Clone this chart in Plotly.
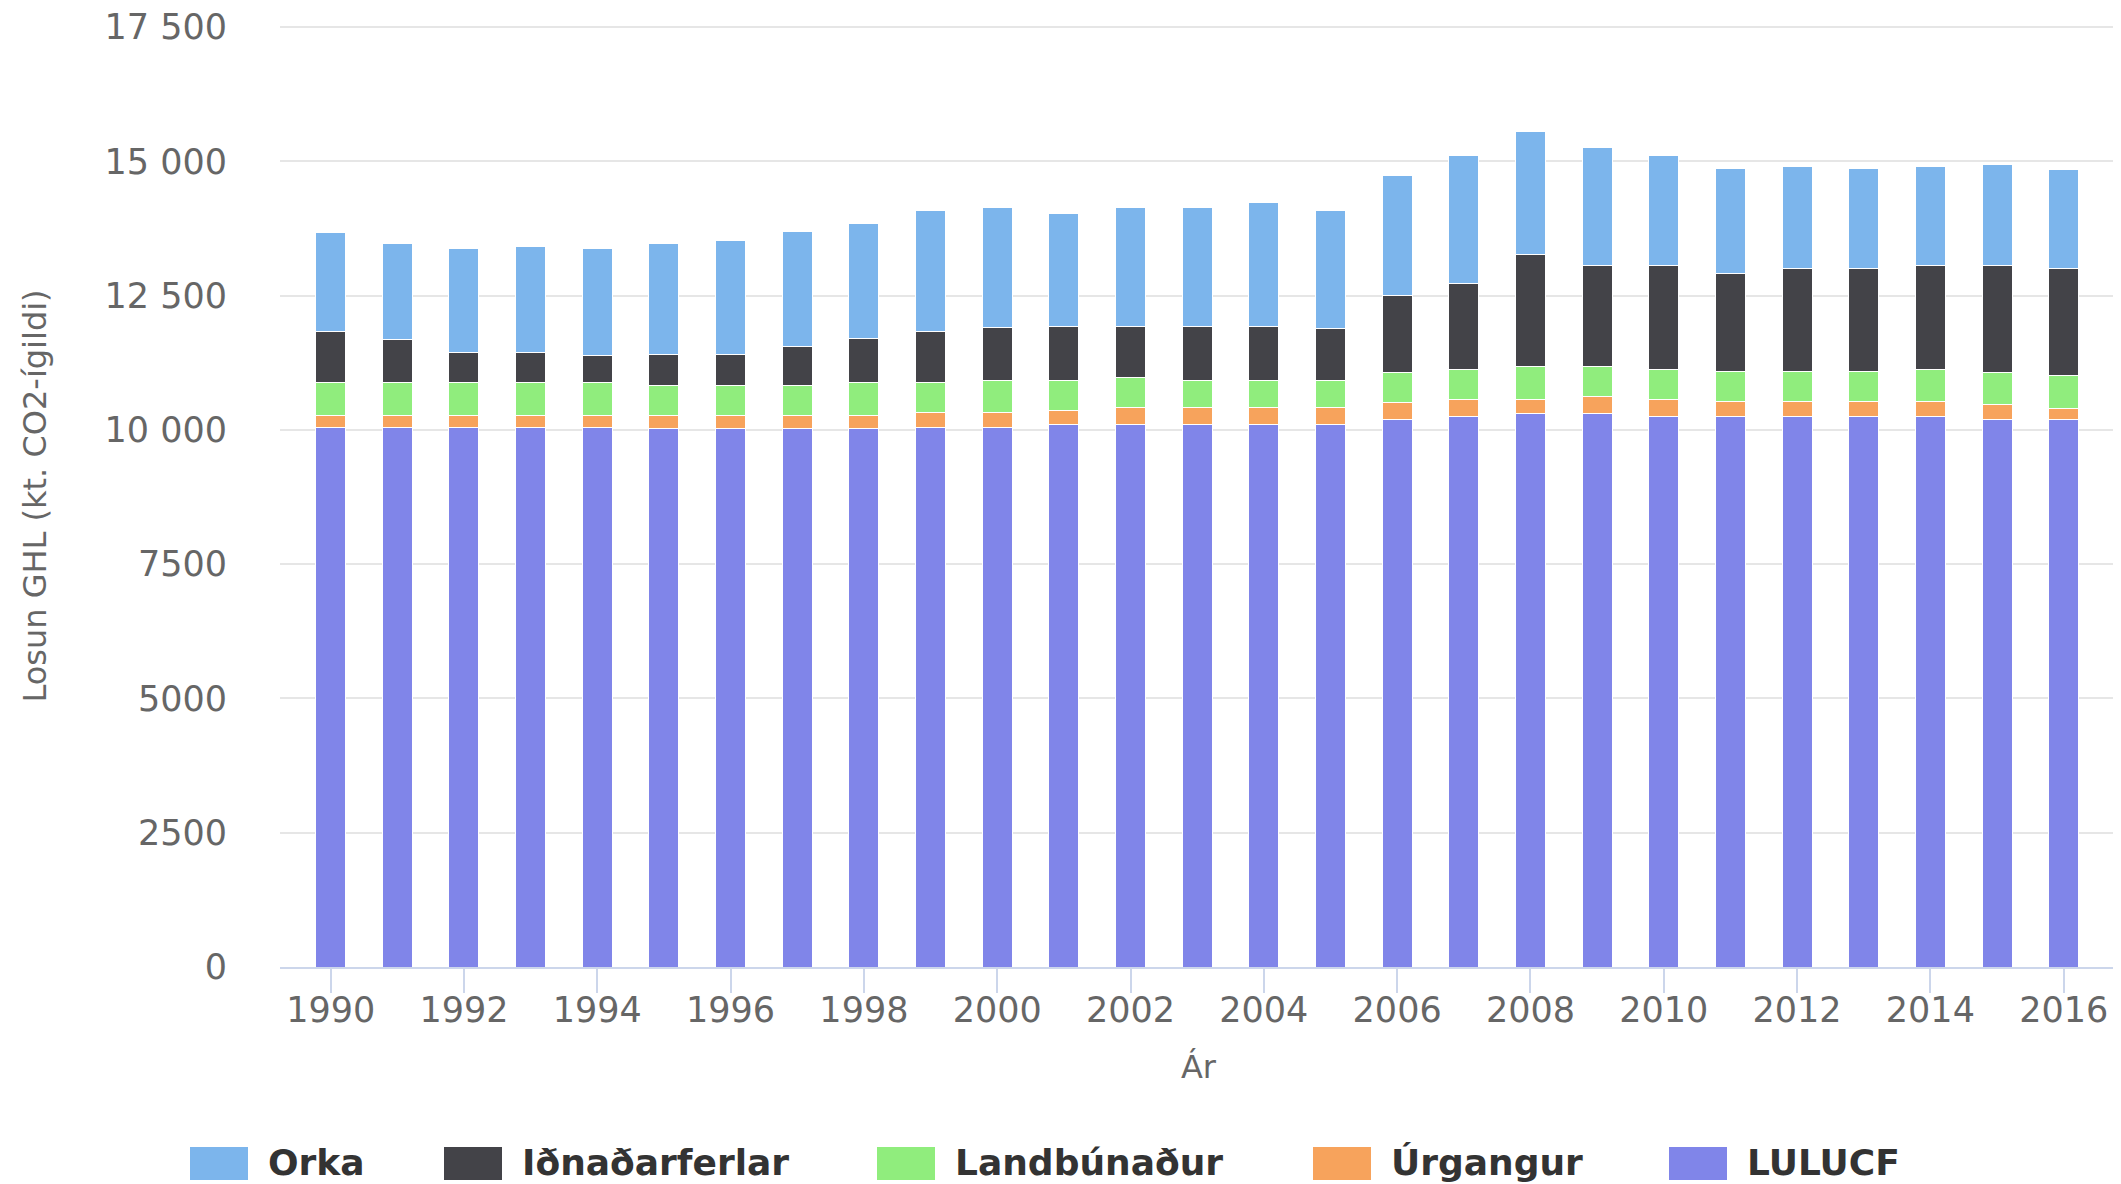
import plotly.graph_objects as go

years = list(range(1990, 2017))
series_names = ["LULUCF", "Úrgangur", "Landbúnaður", "Iðnaðarferlar", "Orka"]
lulucf = [10050, 10050, 10050, 10050, 10050, 10020, 10020, 10020, 10020, 10050,
          10050, 10100, 10100, 10100, 10100, 10100, 10200, 10250, 10300, 10300,
          10250, 10250, 10250, 10250, 10250, 10200, 10200]
urgangur = [210, 210, 210, 210, 210, 250, 250, 250, 250, 270,
            280, 270, 310, 310, 310, 310, 320, 320, 260, 320,
            320, 280, 280, 280, 280, 270, 200]
landbunadur = [620, 620, 620, 620, 620, 560, 560, 560, 620, 560,
               600, 550, 560, 510, 510, 510, 550, 560, 620, 560,
               560, 550, 550, 550, 600, 600, 620]
idnadarferlar = [960, 810, 560, 560, 510, 570, 570, 730, 810, 960,
                 970, 1010, 960, 1010, 1010, 970, 1430, 1590, 2080, 1880,
                 1940, 1830, 1930, 1930, 1940, 1990, 1980]
orka = [1830, 1790, 1930, 1980, 1980, 2080, 2130, 2130, 2150, 2240,
        2250, 2100, 2210, 2210, 2300, 2190, 2240, 2390, 2300, 2200,
        2040, 1950, 1890, 1850, 1840, 1880, 1850]
y_ticks = [0, 2500, 5000, 7500, 10000, 12500, 15000, 17500]
y_tick_labels = ["0", "2500", "5000", "7500", "10 000", "12 500", "15 000", "17 500"]
x_ticks = list(range(1990, 2017, 2))

values = [lulucf, urgangur, landbunadur, idnadarferlar, orka]
colors = ["#8085e9", "#f7a35c", "#90ed7d", "#434348", "#7cb5ec"]

# the page body adds an 8px margin; lay the figure out in screen coordinates minus that
OFF = 8
W, H = 2121 - OFF, 1184 - OFF
PL, PT = 280 - OFF, 17
PR = 2121 - 2117
PB = 1184 - 967
PW = W - PL - PR
PH = H - PT - PB
Y_TOP = 17540  # a little headroom so the 17 500 gridline is drawn

fig = go.Figure()
for name, vals, col in zip(series_names, values, colors):
    fig.add_trace(go.Bar(x=years, y=vals, name=name,
                         marker=dict(color=col, line=dict(color="white", width=1)),
                         showlegend=False))

# legend drawn with larger symbols, like the original
legend_order = ["Orka", "Iðnaðarferlar", "Landbúnaður", "Úrgangur", "LULUCF"]
legend_left_px = [190, 444, 877, 1313, 1669]
shapes = []
annotations = []


def px_x(px):
    return (px - OFF - PL) / PW


def px_y(py):
    return (PT + PH - (py - OFF)) / PH


for nm, lx in zip(legend_order, legend_left_px):
    col = colors[series_names.index(nm)]
    shapes.append(dict(type="rect", xref="paper", yref="paper",
                       x0=px_x(lx), x1=px_x(lx + 58), y0=px_y(1180), y1=px_y(1147),
                       fillcolor=col, line=dict(width=0)))
    annotations.append(dict(text=nm, xref="paper", yref="paper", x=px_x(lx + 76),
                            y=px_y(1162), xanchor="left", yanchor="middle", showarrow=False,
                            font=dict(family="DejaVu Sans", size=36, color="#333333", weight="bold")))

fig.update_layout(
    width=W, height=H,
    margin=dict(l=PL, r=PR, t=PT, b=PB, autoexpand=False),
    barmode="stack", bargap=0.55,
    plot_bgcolor="white", paper_bgcolor="white",
    showlegend=False,
    shapes=shapes, annotations=annotations,
    font=dict(family="DejaVu Sans", color="#666666"),
    xaxis=dict(
        range=[1989.24, 2016.8], tickmode="array", tickvals=x_ticks,
        ticks="outside", ticklen=24, tickwidth=2, tickcolor="#ccd6eb",
        showline=True, linecolor="#ccd6eb", linewidth=2, showgrid=False, zeroline=False,
        tickfont=dict(size=35, color="#666666"), ticklabelstandoff=-13,
        ticklabeloverflow="allow",
        title=dict(text="Ár", font=dict(size=32, color="#666666"), standoff=27),
        automargin=False,
    ),
    yaxis=dict(
        range=[0, Y_TOP], tickmode="array", tickvals=y_ticks, ticktext=y_tick_labels,
        showgrid=True, gridcolor="#e6e6e6", gridwidth=2, zeroline=False, showline=False,
        ticks="", ticklabelstandoff=52, ticklabeloverflow="allow",
        tickfont=dict(size=35, color="#666666"),
        title=dict(text="Losun GHL (kt. CO2-ígildi)", font=dict(size=32, color="#666666"), standoff=48),
        automargin=False,
    ),
)

fig.write_html("out.html")
